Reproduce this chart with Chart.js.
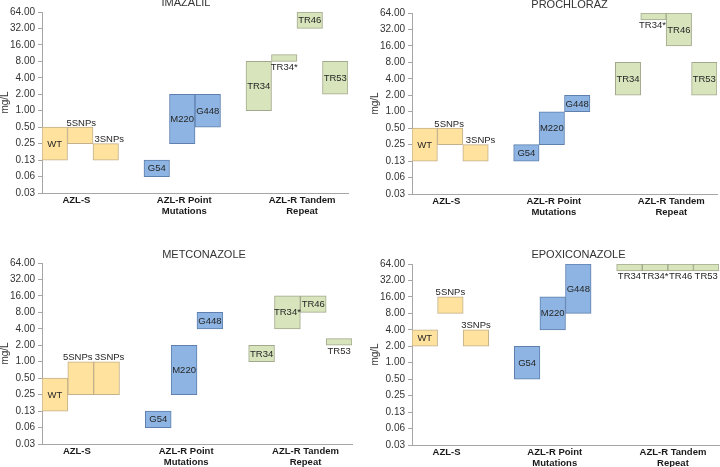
<!DOCTYPE html>
<html><head><meta charset="utf-8">
<script src="https://cdn.jsdelivr.net/npm/chart.js@4"></script>
<style>
html,body{margin:0;padding:0;background:#fff;}
#wrap{position:relative;width:720px;height:467px;overflow:hidden;background:#fff;}
#wrap canvas{position:absolute;}
</style></head><body>
<div id="wrap">
<canvas id="c1" width="360" height="233" style="left:0;top:0"></canvas>
<canvas id="c2" width="360" height="233" style="left:360px;top:0"></canvas>
<canvas id="c3" width="360" height="234" style="left:0;top:233px"></canvas>
<canvas id="c4" width="360" height="234" style="left:360px;top:233px"></canvas>
</div>
<script>
// ---- data ----
const strains = ['WT','5SNPs','3SNPs','G54','M220','G448','TR34','TR34*','TR46','TR53'];
const strainGroup = [0,0,0,1,1,1,2,2,2,2];
const groupLabels = ['AZL-S', ['AZL-R Point','Mutations'], ['AZL-R Tandem','Repeat']];
const yTickValues = [0.03125,0.0625,0.125,0.25,0.5,1,2,4,8,16,32,64];
const yTickLabels = ['0.03','0.06','0.13','0.25','0.50','1.00','2.00','4.00','8.00','16.00','32.00','64.00'];

const imazalilMin      = [0.125, 0.25, 0.125, 0.0625, 0.25, 0.5, 1, 8,    32, 2];
const imazalilMax      = [0.5,   0.5,  0.25,  0.125,  2,    2,   8, 10.6, 64, 8];
const prochlorazMin    = [0.125, 0.25, 0.125, 0.125,  0.25, 1,   2, 48,   16, 2];
const prochlorazMax    = [0.5,   0.5,  0.25,  0.25,   1,    2,   8, 64,   64, 8];
const metconazoleMin   = [0.125, 0.25, 0.25,  0.0625, 0.25, 4,   1, 4,    8,  2];
const metconazoleMax   = [0.5,   1,    1,     0.125,  2,    8,   2, 16,   16, 2.64];
const epoxiconazoleMin = [2,     8,    2,     0.5,    4,    8,   48, 48,  48, 48];
const epoxiconazoleMax = [4,     16,   4,     2,      16,   64,  64, 64,  64, 64];

// ---- styles / layout ----
const FONT = '"Liberation Sans", Arial, sans-serif';
const groupFill   = ['#FFE29E', '#8DB4E2', '#D8E4BC'];
const groupBorder = ['#C4B08A', '#5F80AE', '#A2A88C'];
const groupTickPos = [0.85, 5.08, 9.7];

const panels = [
  {id:'c1', title:'IMAZALIL', min:imazalilMin, max:imazalilMax,
   pos:['in','above','above','in','in','in','in','below','in','in'],
   dx:[0,1,3.5,0,0,0,0,0,0,0],
   tx:186, ty:3, pad:{left:0,right:12,top:12,bottom:0}, xh:40},
  {id:'c2', title:'PROCHLORAZ', min:prochlorazMin, max:prochlorazMax,
   pos:['in','above','above','in','in','in','in','below','in','in'],
   dx:[0,-1,5,0,0,0,0,-1,0,0],
   tx:209.5, ty:4.5, pad:{left:10,right:3,top:13,bottom:0}, xh:39},
  {id:'c3', title:'METCONAZOLE', min:metconazoleMin, max:metconazoleMax,
   pos:['in','above','above','in','in','in','in','in','in','below'],
   dx:[0,-3,3,0,0,0,0,0,0,0],
   tx:204, ty:21.5, pad:{left:0,right:8,top:30,bottom:0}, xh:23},
  {id:'c4', title:'EPOXICONAZOLE', min:epoxiconazoleMin, max:epoxiconazoleMax,
   pos:['in','above','above','in','in','in','below','below','below','below'],
   dx:[0,0,0,0,0,0,0,0,0,0],
   tx:218.5, ty:21.5, pad:{left:10,right:1,top:31,bottom:0}, xh:22}
];

const barLabels = {
  id: 'barLabels',
  afterDatasetsDraw(chart, args, opts) {
    const ctx = chart.ctx;
    const meta = chart.getDatasetMeta(0);
    ctx.save();
    ctx.font = '9.5px ' + FONT;
    ctx.fillStyle = '#262626';
    ctx.textAlign = 'center';
    meta.data.forEach((el, i) => {
      const p = el.getProps(['x','y','base'], true);
      const top = Math.min(p.y, p.base), bot = Math.max(p.y, p.base);
      const where = opts.pos[i];
      const x = p.x + (opts.dx[i] || 0);
      if (where === 'in') { ctx.textBaseline = 'middle'; ctx.fillText(strains[i], x, (top + bot) / 2 + 0.5); }
      else if (where === 'above') { ctx.textBaseline = 'alphabetic'; ctx.fillText(strains[i], x, top - 1.5); }
      else { ctx.textBaseline = 'top'; ctx.fillText(strains[i], x, bot + 1); }
    });
    ctx.font = '11px ' + FONT;
    ctx.fillStyle = '#333';
    ctx.textBaseline = 'middle';
    ctx.fillText(opts.title, opts.tx, opts.ty);
    ctx.restore();
  }
};

panels.forEach(pn => {
  const data = strains.map((s, i) => ({x: i + strainGroup[i], y: [pn.min[i], pn.max[i]]}));
  new Chart(document.getElementById(pn.id), {
    type: 'bar',
    data: {
      datasets: [{
        data: data,
        backgroundColor: strainGroup.map(g => groupFill[g]),
        borderColor: strainGroup.map(g => groupBorder[g]),
        borderWidth: 1,
        borderSkipped: false,
        categoryPercentage: 1,
        barPercentage: 1
      }]
    },
    options: {
      responsive: false,
      animation: false,
      devicePixelRatio: 1,
      events: [],
      layout: {padding: pn.pad},
      plugins: {
        legend: {display: false},
        tooltip: {enabled: false},
        title: {display: false},
        barLabels: {pos: pn.pos, dx: pn.dx, title: pn.title, tx: pn.tx, ty: pn.ty}
      },
      scales: {
        x: {
          type: 'linear',
          offset: false,
          min: -0.5, max: 11.5,
          grid: {display: false, drawTicks: false, offset: false},
          border: {display: true, color: '#A6A6A6', width: 1},
          afterBuildTicks: s => { s.ticks = groupTickPos.map(v => ({value: v})); },
          afterFit: s => { s.height = pn.xh; },
          ticks: {
            autoSkip: false, maxRotation: 0, padding: 2,
            color: '#1a1a1a',
            font: {family: FONT, size: 9.5, weight: 'bold', lineHeight: 1.13},
            callback: (v, i) => groupLabels[i]
          }
        },
        y: {
          type: 'logarithmic',
          min: yTickValues[0], max: yTickValues[yTickValues.length - 1],
          grid: {display: true, drawOnChartArea: false, drawTicks: true, tickLength: 4, color: '#A6A6A6'},
          border: {display: true, color: '#A6A6A6', width: 1},
          afterBuildTicks: s => { s.ticks = yTickValues.map(v => ({value: v})); },
          afterFit: s => { s.width = 42; },
          ticks: {
            padding: 3, color: '#333',
            font: {family: FONT, size: 10},
            callback: (v, i) => yTickLabels[i]
          },
          title: {display: true, text: 'mg/L', color: '#333', padding: 0,
                  font: {family: FONT, size: 10, lineHeight: 1}}
        }
      }
    },
    plugins: [barLabels]
  });
});
</script>
</body></html>
